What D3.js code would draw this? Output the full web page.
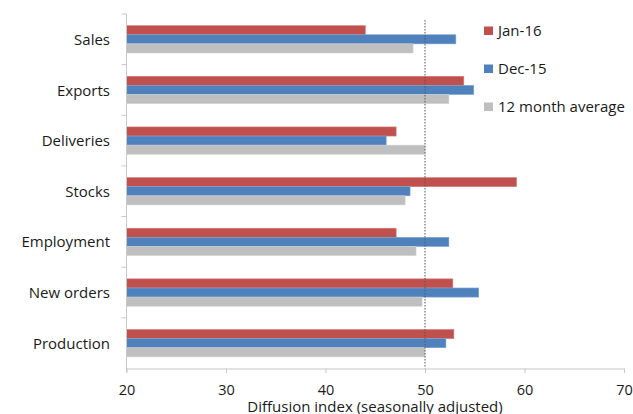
<!DOCTYPE html>
<html>
<head>
<meta charset="utf-8">
<script src="https://cdn.jsdelivr.net/npm/d3@7"></script>
<style>
  html, body { margin: 0; padding: 0; background: #fff; }
  svg text { font-family: "Open Sans", "Liberation Sans", sans-serif; fill: #1a1a1a; }
</style>
</head>
<body>
<svg id="chart" width="633" height="414"></svg>
<script>
// Survey balances by component (diffusion index, seasonally adjusted)
const categories = ["Sales", "Exports", "Deliveries", "Stocks", "Employment", "New orders", "Production"];
const seriesNames = ["Jan-16", "Dec-15", "12 month average"];
const jan16 = [44.0, 53.9, 47.1, 59.2, 47.1, 52.8, 52.9];
const dec15 = [53.1, 54.9, 46.1, 48.5, 52.4, 55.4, 52.1];
const avg12 = [48.8, 52.4, 50.0, 48.0, 49.1, 49.7, 50.0];
const xTicks = [20, 30, 40, 50, 60, 70];
const threshold = 50;
const xTitle = "Diffusion index (seasonally adjusted)";

const seriesValues = [jan16, dec15, avg12];
const colors = ["#C0504D", "#4F81BD", "#BFBFBF"];
const strokes = ["#d47d7a", "#7fa3d1", "#d2d2d2"];

const svg = d3.select("#chart");
const plot = { left: 126.5, right: 624, top: 14, bottom: 368.5 };

const x = d3.scaleLinear().domain([20, 70]).range([plot.left, plot.right]);
const y = d3.scaleBand().domain(categories).range([plot.top, plot.bottom])
  .paddingInner(0.46).paddingOuter(0.23);
const ySub = d3.scaleBand().domain(seriesNames).range([0, y.bandwidth()]);

// bars, one group per category
const rows = categories.map((c, i) => ({ cat: c, vals: seriesValues.map((s, k) => ({ name: seriesNames[k], v: s[i], k })) }));
const g = svg.append("g");
g.selectAll("g.cat").data(rows).join("g")
  .attr("class", "cat")
  .attr("transform", d => `translate(0,${y(d.cat)})`)
  .selectAll("rect").data(d => d.vals).join("rect")
  .attr("x", x(20))
  .attr("y", d => ySub(d.name))
  .attr("width", d => x(d.v) - x(20))
  .attr("height", ySub.bandwidth())
  .attr("fill", d => colors[d.k])
  .attr("stroke", d => strokes[d.k])
  .attr("stroke-width", 0.6);

// 50 = no-change line
svg.append("line")
  .attr("x1", x(threshold)).attr("x2", x(threshold))
  .attr("y1", plot.top + 6).attr("y2", plot.bottom)
  .attr("stroke", "#555").attr("stroke-width", 1)
  .attr("stroke-dasharray", "1.5,1.5");

// y axis
const yAxis = svg.append("g");
yAxis.append("line")
  .attr("x1", plot.left).attr("x2", plot.left)
  .attr("y1", plot.top).attr("y2", plot.bottom + 4)
  .attr("stroke", "#c8c8c8");
const boundaries = categories.map(c => y(c) - y.step() * y.paddingInner() / 2);
yAxis.selectAll("line.tick").data(boundaries).join("line")
  .attr("class", "tick")
  .attr("x1", plot.left - 5).attr("x2", plot.left)
  .attr("y1", d => d).attr("y2", d => d)
  .attr("stroke", "#c8c8c8");
yAxis.selectAll("text").data(categories).join("text")
  .attr("x", 110)
  .attr("y", d => y(d) + y.bandwidth() / 2)
  .attr("dy", "0.37em")
  .attr("text-anchor", "end")
  .attr("font-size", 15)
  .text(d => d);

// x axis
const xAxis = svg.append("g").attr("transform", `translate(0,${plot.bottom})`)
  .call(d3.axisBottom(x).tickValues(xTicks).tickSize(4.5).tickPadding(12).tickSizeOuter(0));
xAxis.select(".domain").attr("stroke", "#c8c8c8");
xAxis.selectAll(".tick line").attr("stroke", "#c8c8c8");
xAxis.selectAll(".tick text")
  .attr("font-size", 14.5)
  .attr("font-family", "Open Sans, Liberation Sans, sans-serif")
  .attr("fill", "#1a1a1a");

svg.append("text")
  .attr("x", 375).attr("y", 411.5)
  .attr("text-anchor", "middle")
  .attr("font-size", 15)
  .text(xTitle);

// legend
const legend = svg.append("g").selectAll("g").data(seriesNames).join("g")
  .attr("transform", (d, i) => `translate(484,${26.5 + i * 38})`);
legend.append("rect")
  .attr("width", 9).attr("height", 8.5)
  .attr("fill", (d, i) => colors[i]);
legend.append("text")
  .attr("x", 14).attr("y", 9)
  .attr("font-size", 15)
  .text(d => d);
</script>
</body>
</html>
